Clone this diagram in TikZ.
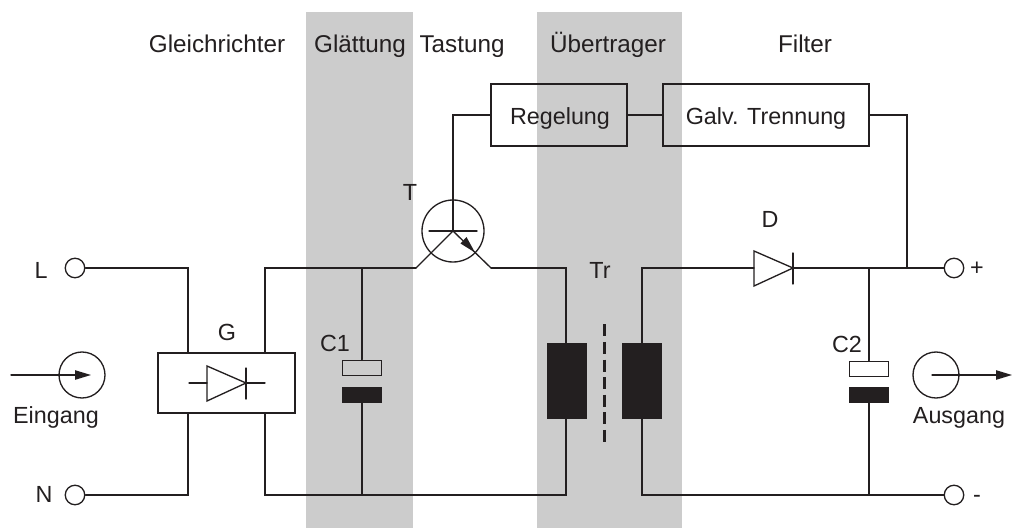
\documentclass[tikz,border=0pt]{standalone}
\usepackage{fontspec}
\setmainfont{Liberation Sans}
\usetikzlibrary{arrows.meta}
\definecolor{ink}{HTML}{231F20}
\definecolor{panel}{HTML}{CCCCCC}
\tikzset{
  x=0.75pt,y=-0.75pt,
  wire/.style={draw=ink,line width=1pt,line cap=round,line join=miter},
  lbl/.style={text=ink,font=\fontsize{17.5}{20}\selectfont,inner sep=0pt,anchor=base},
  head/.style={text=ink,font=\fontsize{18.2}{20}\selectfont,inner sep=0pt,anchor=base},
  term/.style={circle,draw=ink,line width=1pt,minimum size=19.5pt*0.75,inner sep=0pt,fill=white},
  boxn/.style={rectangle,draw=ink,line width=1pt,inner sep=0pt},
  blk/.style={rectangle,fill=ink,draw=none,inner sep=0pt},
  tip/.style={-{Triangle[length=12pt,width=7pt]}}
}
\newcommand{\bx}[5]{\node[#1,minimum width=#4*0.75pt,minimum height=#5*0.75pt] (#2) at #3 {};}
\begin{document}
\begin{tikzpicture}
\useasboundingbox (0,0) rectangle (1013,528);
\fill[panel] (306,12) rectangle (413,528);
\fill[panel] (537,12) rectangle (682,528);

% terminals
\node[term] (L) at (75,268) {};
\node[term] (N) at (75,495) {};
\node[term] (P) at (954,268) {};
\node[term] (M) at (954,495) {};

% boxes
\bx{boxn,fill=white}{G}{(226.5,383)}{137}{60}
\bx{boxn}{Reg}{(559,115)}{136}{62}
\bx{boxn}{Galv}{(766,115)}{206}{62}
\bx{boxn}{Ca}{(362,368)}{39}{15.5}
\bx{blk}{Cb}{(362,395)}{39.5}{16}
\bx{boxn,fill=white}{Da}{(869,369)}{39}{15.5}
\bx{blk}{Db}{(869,395)}{39.5}{16}
\bx{blk}{Wa}{(567,381)}{40}{76}
\bx{blk}{Wb}{(642,381)}{40}{76}

% transistor
\node[circle,draw=ink,line width=1pt,minimum size=62pt*0.75,inner sep=0pt] (T) at (453,231) {};
\coordinate (Tl) at (429,231);
\coordinate (Tr) at (477,231);
\coordinate (Tb) at (453,115);
\coordinate (Tc) at (416,268);
\coordinate (Te) at (491,268);
\draw[wire] (Tl) -- (Tr);
\draw[wire] (Reg.west) -- (Tb) -- (T.center);
\draw[wire] (T.center) -- (Tc);
\draw[wire] (T.center) -- (Te);
\fill[ink] (475,252.5) -- (460.5,243.5) -- (466.5,237) -- cycle;

% wires
\coordinate (Jg) at (188,268);
\coordinate (Jh) at (188,495);
\coordinate (Ja) at (265,268);
\coordinate (Jb) at (265,495);
\coordinate (Jc) at (362,268);
\coordinate (Jd) at (362,495);
\coordinate (Je) at (566,268);
\coordinate (Jf) at (566,495);
\coordinate (Ji) at (642,268);
\coordinate (Jj) at (642,495);
\coordinate (Jk) at (869,268);
\coordinate (Jl) at (869,495);
\coordinate (Jm) at (907,115);
\coordinate (Jn) at (907,268);

\draw[wire] (L.east) -- (Jg) -- (188,353);
\draw[wire] (N.east) -- (Jh) -- (188,413);
\draw[wire] (265,353) -- (Ja) -- (Tc);
\draw[wire] (265,413) -- (Jb) -- (Jf) -- (Wa.south -| Jf);
\draw[wire] (Te) -- (Je) -- (Wa.north -| Je);
\draw[wire] (Jc) -- (Ca.north);
\draw[wire] (Cb.south) -- (Jd);
\draw[wire] (Reg.east) -- (Galv.west);
\draw[wire] (Galv.east) -- (Jm) -- (Jn);

% secondary side
\draw[wire] (Wb.north) -- (Ji) -- (754,268);
\draw[wire] (793,268) -- (Jk) -- (P.west);
\draw[wire] (Wb.south) -- (Jj) -- (M.west);
\draw[wire] (Jk) -- (Da.north);
\draw[wire] (Db.south) -- (Jl);
\draw[wire] (754,251) -- (793,268) -- (754,286) -- cycle;
\draw[wire] (793,253) -- (793,284);

% rectifier symbol
\draw[wire] (189,383) -- (207,383);
\draw[wire] (246,383) -- (265,383);
\draw[wire] (207,366) -- (246,383) -- (207,401) -- cycle;
\draw[wire] (246,368) -- (246,399);

% core
\draw[draw=ink,line width=2pt,dash pattern=on 9pt off 4.2pt] (604.5,324.3) -- (604.5,442);

% source and load
\node[circle,draw=ink,line width=1pt,minimum size=46pt*0.75,inner sep=0pt] (In) at (82,375) {};
\node[circle,draw=ink,line width=1pt,minimum size=46pt*0.75,inner sep=0pt] (Out) at (936,375) {};
\coordinate (Ia) at (11,375);
\coordinate (Ib) at (91,375);
\coordinate (Oa) at (932,375);
\coordinate (Ob) at (1012,375);
\draw[wire,tip] (Ia) -- (Ib);
\draw[wire,tip] (Oa) -- (Ob);

% labels
\node[head] (t1) at (217,53) {Gleichrichter};
\node[head] (t2) at (360,53) {Glättung};
\node[head] (t3) at (462,53) {Tastung};
\node[head] (t4) at (608,53) {Übertrager};
\node[head] (t5) at (805,53) {Filter};
\node[lbl] (t6) at (560,124) {Regelung};
\node[lbl] (t7) at (766,124) {Galv. Trennung};
\node[lbl] (t8) at (410,200) {T};
\node[lbl] (t9) at (600,278) {Tr};
\node[lbl] (t10) at (770,227) {D};
\node[lbl] (t11) at (41,278) {L};
\node[lbl] (t12) at (44,502) {N};
\node[lbl] (t13) at (227,340) {G};
\node[lbl] (t14) at (335,351) {C1};
\node[lbl] (t15) at (847,352) {C2};
\node[lbl] (t16) at (56,423) {Eingang};
\node[lbl] (t17) at (959,423) {Ausgang};
\node[lbl] (t18) at (977,275) {+};
\node[lbl] (t19) at (977,502) {-};
\end{tikzpicture}
\end{document}
